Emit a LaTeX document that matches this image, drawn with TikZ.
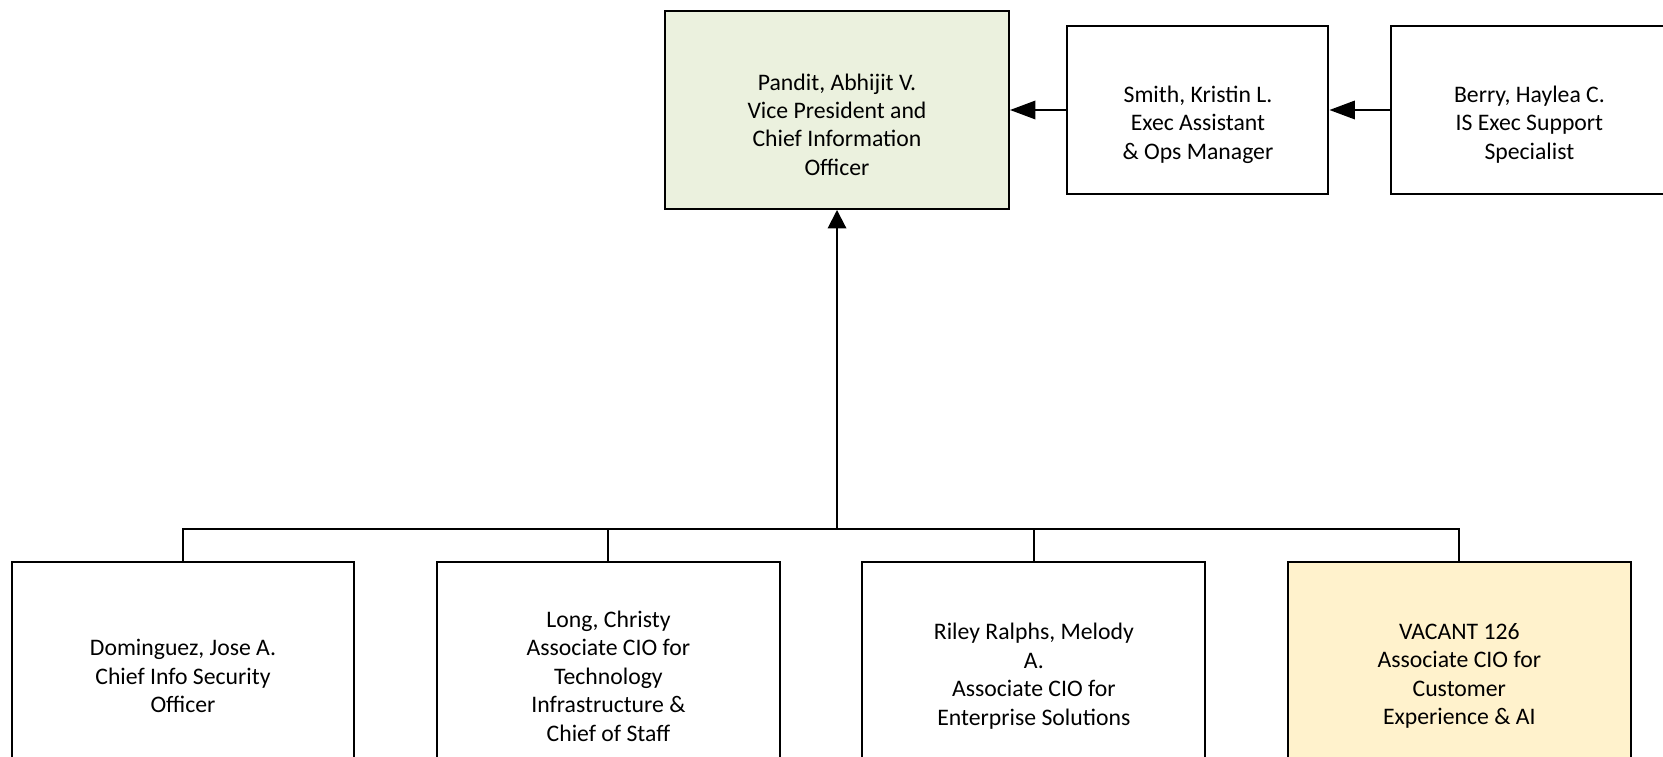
\documentclass[tikz,border=0pt]{standalone}
\usepackage{fontspec}
\setmainfont{Carlito}
\usetikzlibrary{positioning,arrows.meta}

\definecolor{vpgreen}{RGB}{235,241,222}
\definecolor{vacyellow}{RGB}{255,242,204}

% pushes the text of the top boxes a little down
\newcommand{\padtop}{\rule{0pt}{26pt}}

\tikzset{
  box/.style={draw, line width=1.15pt, align=center, inner sep=0pt,
              font=\fontsize{13.5}{16.2}\selectfont},
  topbox/.style={box, minimum height=3.38cm},
  lowbox/.style={box, minimum width=6.86cm, minimum height=4.56cm},
  link/.style={line width=1.15pt},
  arr/.style={link, -{Triangle[length=#1,width=10.5pt]}},
  arr/.default=14.5pt
}

\begin{document}
\begin{tikzpicture}[x=0.02cm, y=-0.02cm, node distance=1.61cm]
  \useasboundingbox (0,0) rectangle (1663,757);
  \clip (0,0) rectangle (1663,757);

  % top row
  \node[box, fill=vpgreen, minimum width=6.88cm, minimum height=3.96cm] (vp) at (837,110)
       {\padtop Pandit, Abhijit V.\\Vice President and\\Chief Information\\Officer};
  \node[topbox, minimum width=5.22cm] (smith) [right=1.13cm of vp]
       {\padtop Smith, Kristin L.\\Exec Assistant\\\& Ops Manager};
  \node[topbox, minimum width=5.52cm] (berry) [right=1.22cm of smith]
       {\padtop Berry, Haylea C.\\IS Exec Support\\Specialist};

  % bottom row
  \node[lowbox] (dom) at (183,676) {Dominguez, Jose A.\\Chief Info Security\\Officer};
  \node[lowbox] (long)  [right=of dom]   {Long, Christy\\Associate CIO for\\Technology\\Infrastructure \&\\Chief of Staff};
  \node[lowbox] (riley) [right=of long]  {Riley Ralphs, Melody\\A.\\Associate CIO for\\Enterprise Solutions};
  \node[lowbox, fill=vacyellow] (vac) [right=of riley] {VACANT 126\\Associate CIO for\\Customer\\Experience \& AI};

  \coordinate (bus) at (837,529);
  \draw[arr=10.5pt] (bus) -- (vp);
  \foreach \n in {dom,long,riley,vac}
    \draw[link] (\n.north) |- (bus);
  \draw[arr] (smith) -- (vp);
  \draw[arr] (berry) -- (smith);
\end{tikzpicture}
\end{document}
